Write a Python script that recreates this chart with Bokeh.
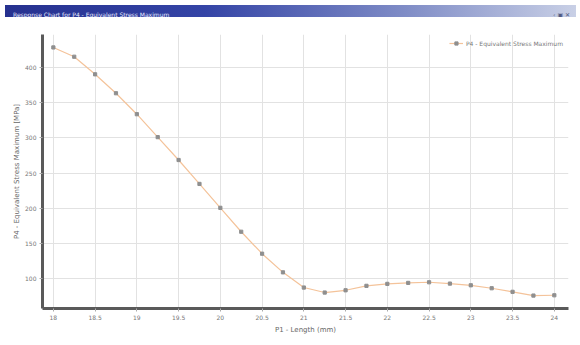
from bokeh.plotting import figure
from bokeh.models import FixedTicker, Div, Legend, LegendItem, Range1d
from bokeh.layouts import column
from bokeh.embed import file_html
from bokeh.resources import INLINE

# ---- data ----
length_mm = [18.0, 18.25, 18.5, 18.75, 19.0, 19.25, 19.5, 19.75, 20.0, 20.25,
             20.5, 20.75, 21.0, 21.25, 21.5, 21.75, 22.0, 22.25, 22.5, 22.75,
             23.0, 23.25, 23.5, 23.75, 24.0]
stress_mpa = [428.6, 415.4, 390.4, 363.5, 333.7, 301.1, 268.6, 234.6, 200.6, 166.6,
              135.4, 108.9, 87.3, 80.2, 83.4, 89.7, 92.5, 93.9, 94.8, 92.9,
              90.5, 86.3, 81.2, 75.9, 76.3]
x_ticks = [18.0, 18.5, 19.0, 19.5, 20.0, 20.5, 21.0, 21.5, 22.0, 22.5, 23.0, 23.5, 24.0]
y_ticks = [100, 150, 200, 250, 300, 350, 400]

title_text = "Response Chart for P4 - Equivalent Stress Maximum"
x_label = "P1 - Length (mm)"
y_label = "P4 - Equivalent Stress Maximum [MPa]"
series_name = "P4 - Equivalent Stress Maximum"

W = 571

bar = Div(
    text=('<div style="display:flex;justify-content:space-between;align-items:center;'
          'box-sizing:border-box;width:' + str(W) + 'px;'
          'height:12px;padding:0 6px 0 8px;font-family:\'DejaVu Sans\';font-size:6px;color:#e8ecff;">'
          '<span>' + title_text + '</span>'
          '<span style="color:#505a80;font-size:6px;">&#8249; &#9635; &#10005;</span></div>'),
    width=W, height=12,
    styles={"background": "linear-gradient(to right, #26318f 0%, #3444a6 35%, #7f8cc6 70%, #c9d0e6 100%)",
            "overflow": "hidden"},
)

p = figure(width=W, height=316, output_backend="svg", toolbar_location=None,
           x_range=Range1d(17.87, 24.17), y_range=Range1d(57.5, 447.0),
           min_border_left=42, min_border_right=3, min_border_top=12, min_border_bottom=30,
           background_fill_color="white", border_fill_color="white")
p.outline_line_color = None

line = p.line(length_mm, stress_mpa, line_color="#f4c39a", line_width=1.2)
pts = p.scatter(length_mm, stress_mpa, marker="square", size=3.2,
                fill_color="#8f8f8f", line_color="#8f8f8f")

p.xaxis.ticker = FixedTicker(ticks=x_ticks, minor_ticks=[])
p.yaxis.ticker = FixedTicker(ticks=y_ticks, minor_ticks=[])
for ax in (p.xaxis, p.yaxis):
    ax.axis_line_color = "#5a5a5a"
    ax.axis_line_width = 3
    ax.major_tick_line_color = "#aaaaaa"
    ax.major_tick_out = 3
    ax.major_tick_in = 0
    ax.minor_tick_line_color = None
    ax.major_label_text_font = "DejaVu Sans"
    ax.major_label_text_font_size = "6px"
    ax.major_label_text_color = "#777777"
    ax.axis_label_text_font = "DejaVu Sans"
    ax.axis_label_text_font_size = "7px"
    ax.axis_label_text_font_style = "normal"
    ax.axis_label_text_color = "#666666"
    ax.major_label_standoff = 3
p.xaxis.axis_label = x_label
p.yaxis.axis_label = y_label
p.xaxis.axis_label_standoff = 3
p.yaxis.axis_label_standoff = 1

p.xgrid.ticker = FixedTicker(ticks=x_ticks)
p.ygrid.ticker = FixedTicker(ticks=y_ticks)
p.grid.grid_line_color = "#e2e2e2"
p.grid.grid_line_width = 1

legend = Legend(items=[LegendItem(label=series_name, renderers=[line, pts])],
                location="top_right", orientation="horizontal")
legend.label_text_font = "DejaVu Sans"
legend.label_text_font_size = "6px"
legend.label_text_color = "#777777"
legend.background_fill_alpha = 0
legend.border_line_color = None
legend.glyph_width = 14
legend.glyph_height = 8
legend.padding = 2
legend.margin = 5
legend.label_standoff = 3
p.add_layout(legend)

layout = column(bar, p, spacing=0)
open("out.html", "w").write(file_html(layout, INLINE))
